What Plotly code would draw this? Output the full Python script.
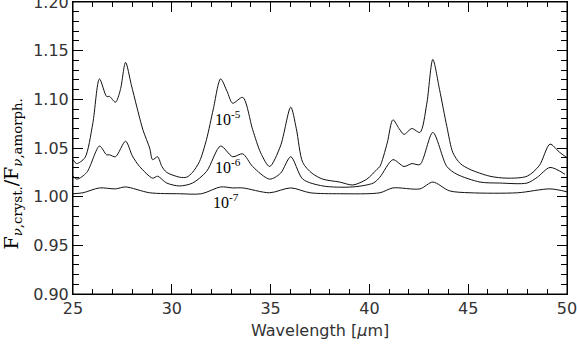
import plotly.graph_objects as go

# wavelength grid (micron) and flux ratios
wl_5 = [25.0, 25.18, 25.6, 26.0, 26.34, 26.7, 26.85, 27.15, 27.4, 27.66, 27.95, 28.22, 28.55, 28.88,
        29.03, 29.28, 29.5, 29.74, 30.4, 30.75, 31.05, 31.4, 31.76, 32.1, 32.47, 32.8, 33.08, 33.59,
        34.09, 34.5, 34.95, 35.5, 36.02, 36.3, 36.63, 37.1, 37.64, 38.5, 39.16, 39.87, 40.38, 40.53,
        40.9, 41.19, 41.5, 41.75, 42.15, 42.56, 42.9, 43.21, 43.55, 43.92, 44.23, 44.6, 45.09, 46.1,
        46.96, 47.98, 48.6, 49.14, 49.6, 50.0]
ratio_5 = [1.038, 1.034, 1.040, 1.075, 1.121, 1.103, 1.103, 1.097, 1.110, 1.138, 1.115, 1.093, 1.068, 1.050,
           1.038, 1.041, 1.031, 1.025, 1.020, 1.020, 1.025, 1.036, 1.059, 1.090, 1.121, 1.108, 1.096, 1.102,
           1.069, 1.045, 1.031, 1.052, 1.092, 1.070, 1.035, 1.024, 1.018, 1.015, 1.012, 1.018, 1.028, 1.031,
           1.055, 1.079, 1.070, 1.064, 1.070, 1.066, 1.095, 1.141, 1.110, 1.072, 1.045, 1.034, 1.028, 1.021,
           1.019, 1.021, 1.032, 1.054, 1.046, 1.040]

wl_6 = [25.0, 25.2, 25.7, 26.34, 26.7, 26.85, 27.15, 27.66, 28.0, 28.37, 29.03, 29.28, 29.74, 30.4,
        31.05, 31.76, 32.47, 33.08, 33.59, 34.09, 34.95, 35.5, 36.02, 36.63, 37.64, 39.16, 40.2, 40.53,
        41.19, 41.75, 42.15, 42.56, 43.21, 43.92, 44.43, 45.6, 46.6, 47.98, 48.5, 49.14, 49.9]
ratio_6 = [1.021, 1.018, 1.025, 1.052, 1.043, 1.043, 1.041, 1.057, 1.042, 1.031, 1.019, 1.021, 1.014, 1.011,
           1.014, 1.026, 1.052, 1.041, 1.044, 1.031, 1.018, 1.024, 1.041, 1.018, 1.011, 1.010, 1.014, 1.020,
           1.038, 1.031, 1.034, 1.033, 1.066, 1.031, 1.023, 1.015, 1.014, 1.014, 1.020, 1.030, 1.023]

wl_7 = [25.0, 25.5, 26.34, 27.15, 27.66, 28.88, 30.4, 31.5, 32.47, 33.08, 33.59, 34.95, 36.02, 37.0,
        38.5, 40.53, 41.19, 42.56, 43.21, 44.05, 45.09, 47.5, 49.14, 50.0]
ratio_7 = [1.003, 1.004, 1.009, 1.008, 1.010, 1.004, 1.003, 1.003, 1.010, 1.009, 1.009, 1.004, 1.009, 1.004,
           1.003, 1.004, 1.009, 1.008, 1.015, 1.006, 1.004, 1.004, 1.008, 1.005]

curve_labels = ["10<sup>-5</sup>", "10<sup>-6</sup>", "10<sup>-7</sup>"]
label_x = [32.83, 32.83, 32.75]
label_y = [1.081, 1.031, 0.996]

fig = go.Figure()
for wl, r in [(wl_5, ratio_5), (wl_6, ratio_6), (wl_7, ratio_7)]:
    fig.add_trace(go.Scatter(x=wl, y=r, mode="lines", line=dict(color="#111", width=1.0, shape="spline", smoothing=0.8),
                             showlegend=False, hoverinfo="skip"))

for txt, lx, ly in zip(curve_labels, label_x, label_y):
    fig.add_annotation(x=lx, y=ly, text=txt, showarrow=False,
                       font=dict(family="Liberation Serif", size=16, color="black"))

axis_font = dict(family="DejaVu Sans", size=16, color="#333")
fig.update_xaxes(range=[25, 50], tickvals=[25, 30, 35, 40, 45, 50], ticks="inside", ticklen=10,
                 tickcolor="black", mirror="allticks", showline=True, linecolor="black", linewidth=1,
                 showgrid=False, zeroline=False, tickfont=axis_font, automargin=False,
                 ticklabeloverflow="allow",
                 minor=dict(dtick=1, ticks="inside", ticklen=5, tickcolor="black"))
fig.update_yaxes(range=[0.9, 1.2], tickvals=[0.9, 0.95, 1.0, 1.05, 1.1, 1.15, 1.2], tickformat=".2f",
                 ticks="inside", ticklen=10, automargin=False, ticklabeloverflow="allow",
                 tickcolor="black", mirror="allticks", showline=True, linecolor="black", linewidth=1,
                 showgrid=False, zeroline=False, tickfont=axis_font,
                 minor=dict(dtick=0.01, ticks="inside", ticklen=6, tickcolor="black"))

# frame around the plot area
fig.add_shape(type="rect", xref="paper", yref="paper", x0=0, y0=0, x1=1, y1=1,
              line=dict(color="black", width=1))

# axis titles
fig.add_annotation(xref="paper", yref="paper", x=0.5, y=-0.125, yanchor="middle", showarrow=False,
                   text="Wavelength [<i>μ</i>m]", font=axis_font)
fig.add_annotation(xref="paper", yref="paper", x=-0.123, y=0.41, xanchor="center", yanchor="middle",
                   textangle=-90, showarrow=False,
                   text="F<sub><i>ν</i>,cryst.</sub>/F<sub><i>ν</i>,amorph.</sub>",
                   font=dict(family="DejaVu Serif", size=19, color="black"))

fig.update_layout(width=577, height=347, margin=dict(l=73, r=10, t=2, b=53),
                  plot_bgcolor="white", paper_bgcolor="white")

# page body has an 8px default margin; drop it so the figure sits at the corner
fig.write_html("out.html", config={"displayModeBar": False},
               post_script="document.body.style.margin='0';")
